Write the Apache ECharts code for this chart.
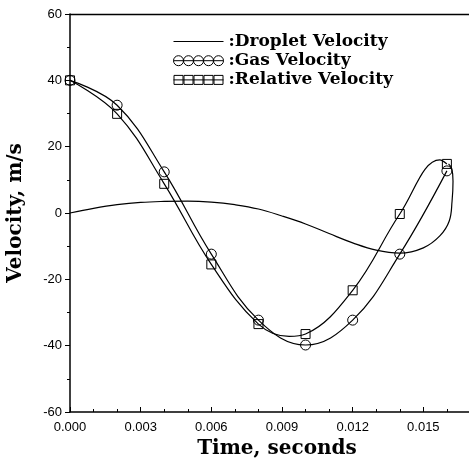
<!DOCTYPE html>
<html><head><meta charset="utf-8">
<script src="https://cdn.jsdelivr.net/npm/echarts@6/dist/echarts.min.js"></script>
<style>html,body{margin:0;padding:0;background:#fff}#c{width:469px;height:459px}</style>
</head><body><div id="c"></div>
<script>
// ---- data ----
const markerTimes = [0.000, 0.002, 0.004, 0.006, 0.008, 0.010, 0.012, 0.014, 0.016];
const gasVelocity = [40, 32.5, 12.4, -12.4, -32.3, -39.8, -32.3, -12.4, 12.7];
const relativeVelocity = [40, 29.9, 8.8, -15.5, -33.5, -36.5, -23.3, -0.3, 14.8];
// extra (unmarked) points
const relativeCurveTimes = [0.0093, 0.0157];
const relativeCurveValues = [-37.2, 16.0];
// droplet velocity curve (no markers)
const dropletTimes = [0.000, 0.001, 0.002, 0.003, 0.004, 0.005, 0.006, 0.007, 0.008, 0.009, 0.010, 0.011, 0.012, 0.013, 0.014, 0.015, 0.0157, 0.0161, 0.01622, 0.01626, 0.01621, 0.01607];
const dropletVelocity = [0, 1.4, 2.5, 3.2, 3.5, 3.6, 3.3, 2.5, 1.2, -0.9, -3.3, -6.2, -9.0, -11.2, -12.1, -10.5, -6.9, -2.4, 3.6, 9.6, 13.3, 14.8];
const seriesNames = ['Droplet Velocity', 'Gas Velocity', 'Relative Velocity'];
const xAxisTitle = 'Time, seconds';
const yAxisTitle = 'Velocity, m/s';

// ---- build series data ----
const gasData = markerTimes.map((t, i) => ({ value: [t, gasVelocity[i]] }));
const relData = markerTimes.map((t, i) => ({ value: [t, relativeVelocity[i]] }))
  .concat(relativeCurveTimes.map((t, i) => ({ value: [t, relativeCurveValues[i]], symbol: 'none' })))
  .sort((a, b) => a.value[0] - b.value[0]);
const dropData = dropletTimes.map((t, i) => [t, dropletVelocity[i]]);

const serif = 'DejaVu Serif';
const sans = 'Liberation Sans';
const lineIcon = 'path://M0,4.4L50,4.4L50,5.6L0,5.6Z';
const circlesIcon = 'path://M0,5L50,5M0,5A5,5 0 1,0 10,5A5,5 0 1,0 0,5M10,5A5,5 0 1,0 20,5A5,5 0 1,0 10,5M20,5A5,5 0 1,0 30,5A5,5 0 1,0 20,5M30,5A5,5 0 1,0 40,5A5,5 0 1,0 30,5M40,5A5,5 0 1,0 50,5A5,5 0 1,0 40,5';
const squaresIcon = 'path://M0,5L50,5M0.5,0.5L9.5,0.5L9.5,9.5L0.5,9.5ZM10.5,0.5L19.5,0.5L19.5,9.5L10.5,9.5ZM20.5,0.5L29.5,0.5L29.5,9.5L20.5,9.5ZM30.5,0.5L39.5,0.5L39.5,9.5L30.5,9.5ZM40.5,0.5L49.5,0.5L49.5,9.5L40.5,9.5Z';
const hollow = { color: 'rgba(0,0,0,0)', borderColor: '#000', borderWidth: 1 };

const chart = echarts.init(document.getElementById('c'), null, { renderer: 'canvas' });
chart.setOption({
  backgroundColor: '#fff',
  animation: false,
  grid: { left: 70, top: 14, width: 424, height: 398, outerBoundsMode: 'none', containLabel: false },
  legend: {
    orient: 'vertical', left: 173, top: 33, padding: 0,
    itemWidth: 50, itemHeight: 10, itemGap: 2.2,
    formatter: n => ':' + n,
    textStyle: { fontFamily: serif, fontWeight: 'bold', fontSize: 17, lineHeight: 17, color: '#000' },
    data: [
      { name: seriesNames[0], icon: lineIcon, itemStyle: { color: '#000', borderWidth: 0 } },
      { name: seriesNames[1], icon: circlesIcon, itemStyle: hollow },
      { name: seriesNames[2], icon: squaresIcon, itemStyle: hollow }
    ]
  },
  xAxis: [{
    type: 'value', min: 0, max: 0.018, interval: 0.003,
    name: xAxisTitle, nameLocation: 'middle', nameGap: 17,
    nameTextStyle: { fontFamily: serif, fontWeight: 'bold', fontSize: 20, color: '#000', padding: [0, 10, 0, 0] },
    axisLine: { show: true, onZero: false, lineStyle: { color: '#000', width: 1.5 } },
    axisTick: { show: true, inside: true, length: 5, lineStyle: { color: '#000', width: 1 } },
    minorTick: { show: true, splitNumber: 3, length: 3, lineStyle: { color: '#000', width: 1 } },
    axisLabel: { margin: 9, fontFamily: sans, fontSize: 13, color: '#000',
      formatter: v => (v > 0.0165 ? '' : v.toFixed(3)) },
    splitLine: { show: false }
  }, {
    type: 'value', position: 'top', min: 0, max: 0.018,
    axisLine: { show: true, onZero: false, lineStyle: { color: '#000', width: 1.3 } },
    axisTick: { show: false }, axisLabel: { show: false }, splitLine: { show: false }
  }],
  yAxis: {
    type: 'value', min: -60, max: 60, interval: 20,
    name: yAxisTitle, nameLocation: 'middle', nameGap: 44, nameRotate: 90,
    nameTextStyle: { fontFamily: serif, fontWeight: 'bold', fontSize: 20, color: '#000' },
    axisLine: { show: true, onZero: false, lineStyle: { color: '#000', width: 1.5 } },
    axisTick: { show: true, inside: false, length: 5, lineStyle: { color: '#000', width: 1 } },
    minorTick: { show: true, splitNumber: 2, length: 3, lineStyle: { color: '#000', width: 1 } },
    axisLabel: { margin: 8, fontFamily: sans, fontSize: 13, color: '#000' },
    splitLine: { show: false }
  },
  series: [{
    name: seriesNames[0], type: 'line', data: dropData, smooth: 0.4,
    symbol: 'none', lineStyle: { color: '#000', width: 1.2 }, itemStyle: { color: '#000' }
  }, {
    name: seriesNames[1], type: 'line', data: gasData, smooth: 0.4,
    symbol: 'circle', symbolSize: 10, lineStyle: { color: '#000', width: 1.2 }, itemStyle: hollow
  }, {
    name: seriesNames[2], type: 'line', data: relData, smooth: 0.4,
    symbol: 'rect', symbolSize: 9, lineStyle: { color: '#000', width: 1.2 }, itemStyle: hollow
  }]
});
</script></body></html>
